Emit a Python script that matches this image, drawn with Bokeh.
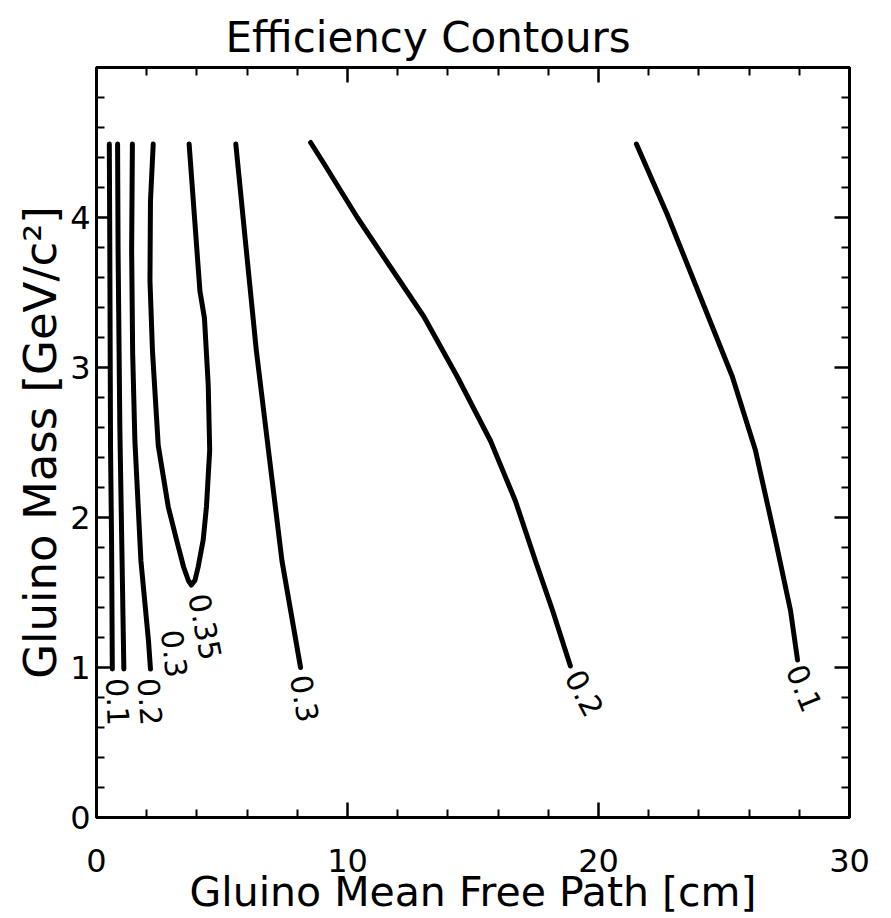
import math
from bokeh.plotting import figure
from bokeh.models import LinearAxis, FixedTicker, Range1d, Title
from bokeh.core.properties import value
from bokeh.embed import file_html
from bokeh.resources import INLINE

# ---- data (x: gluino mean free path [cm], y: gluino mass [GeV/c^2]) ----
c01_left_x = [0.51, 0.53, 0.56, 0.60, 0.63]
c01_left_y = [4.49, 3.78, 2.45, 1.85, 0.99]

c02_left_x = [0.84, 0.86, 0.93, 1.00, 1.09]
c02_left_y = [4.49, 3.78, 2.60, 1.90, 0.99]

c03_left_x = [1.43, 1.40, 1.44, 1.53, 1.77, 2.07, 2.15]
c03_left_y = [4.49, 3.78, 3.10, 2.51, 1.71, 1.18, 0.99]

c035_x = [2.26, 2.15, 2.13, 2.23, 2.46, 2.86, 3.19, 3.47, 3.66, 3.78, 3.92,
          4.05, 4.25, 4.38, 4.51, 4.45, 4.30, 4.12, 3.69]
c035_y = [4.49, 4.11, 3.58, 3.11, 2.48, 2.07, 1.85, 1.67, 1.58, 1.55, 1.58,
          1.67, 1.85, 2.07, 2.45, 2.89, 3.33, 3.51, 4.49]

c03_right_x = [5.55, 5.97, 6.37, 6.85, 7.39, 8.13]
c03_right_y = [4.49, 3.78, 3.11, 2.45, 1.71, 1.00]

c02_right_x = [8.53, 9.06, 10.39, 11.71, 13.04, 14.37, 15.70, 16.69, 17.49, 18.17, 18.88]
c02_right_y = [4.50, 4.36, 4.00, 3.67, 3.34, 2.94, 2.51, 2.11, 1.71, 1.38, 1.01]

c01_right_x = [21.51, 22.74, 24.06, 25.33, 26.25, 27.05, 27.65, 27.93]
c01_right_y = [4.49, 4.02, 3.47, 2.94, 2.45, 1.85, 1.38, 1.05]

curves_x = [c01_left_x, c02_left_x, c03_left_x, c035_x, c03_right_x, c02_right_x, c01_right_x]
curves_y = [c01_left_y, c02_left_y, c03_left_y, c035_y, c03_right_y, c02_right_y, c01_right_y]

label_text = ["0.1", "0.2", "0.3", "0.35", "0.3", "0.2", "0.1"]
label_x = [0.82, 2.07, 2.99, 4.08, 8.13, 19.0, 27.85]
label_y = [0.93, 0.93, 1.25, 1.49, 0.95, 0.97, 1.01]
label_angle_deg = [-88, -86, -83, -79, -80, -62, -68]

x_major = [0, 10, 20, 30]
x_minor = [2, 4, 6, 8, 12, 14, 16, 18, 22, 24, 26, 28]
y_major = [0, 1, 2, 3, 4]
y_minor = [round(0.2 * i, 1) for i in range(1, 25) if i % 5 != 0]

FONT = "DejaVu Sans"

p = figure(width=891, height=918, output_backend="svg", toolbar_location=None,
           x_range=Range1d(0, 30), y_range=Range1d(0, 5),
           x_axis_location=None, y_axis_location=None,
           min_border_left=96, min_border_right=42, min_border_top=67, min_border_bottom=101)
p.grid.visible = False
p.outline_line_color = "black"
p.outline_line_width = 3
p.background_fill_color = "white"
p.border_fill_color = "white"

p.title = Title(text="Efficiency Contours", align="left", offset=129,
                text_font=FONT, text_font_size="42px", text_font_style="normal",
                text_color="black", standoff=11)


def style_axis(ax, show_labels):
    ax.axis_line_width = 3
    ax.axis_line_color = "black"
    ax.major_tick_in = 15
    ax.major_tick_out = 0
    ax.minor_tick_in = 8
    ax.minor_tick_out = 0
    ax.major_tick_line_width = 2.5
    ax.minor_tick_line_width = 2
    ax.major_label_text_font = FONT
    ax.major_label_text_color = "black"
    ax.axis_label_text_color = "black"
    if show_labels:
        ax.major_label_text_font_size = "32px"
    else:
        ax.major_label_text_color = None
        ax.major_label_text_alpha = 0
        ax.major_label_text_font_size = "1px"
        ax.major_label_standoff = 0


xt = FixedTicker(ticks=x_major, minor_ticks=x_minor)
yt = FixedTicker(ticks=y_major, minor_ticks=y_minor)

xb = LinearAxis(ticker=xt, axis_label="Gluino Mean Free Path [cm]")
style_axis(xb, True)
xb.major_label_standoff = 31
xb.axis_label_standoff = -7
xb.axis_label_text_font = FONT
xb.axis_label_text_font_size = "41px"
xb.axis_label_text_font_style = "normal"
p.add_layout(xb, "below")

xa = LinearAxis(ticker=xt)
style_axis(xa, False)
p.add_layout(xa, "above")

yl = LinearAxis(ticker=yt, axis_label="Gluino Mass [GeV/c²]")
style_axis(yl, True)
yl.major_label_standoff = 6
yl.axis_label_standoff = 0
yl.axis_label_text_font = FONT
yl.axis_label_text_font_size = "45px"
yl.axis_label_text_font_style = "normal"
p.add_layout(yl, "left")

yr = LinearAxis(ticker=yt)
style_axis(yr, False)
p.add_layout(yr, "right")

p.multi_line(xs=curves_x, ys=curves_y, line_color="black", line_width=5,
             line_cap="round", line_join="round")

p.text(x=label_x, y=label_y, text=label_text,
       angle=[math.radians(a) for a in label_angle_deg],
       text_align="left", text_baseline="middle",
       text_font=value(FONT), text_font_size=value("30px"), text_color="black")

open("out.html", "w").write(file_html(p, INLINE))
